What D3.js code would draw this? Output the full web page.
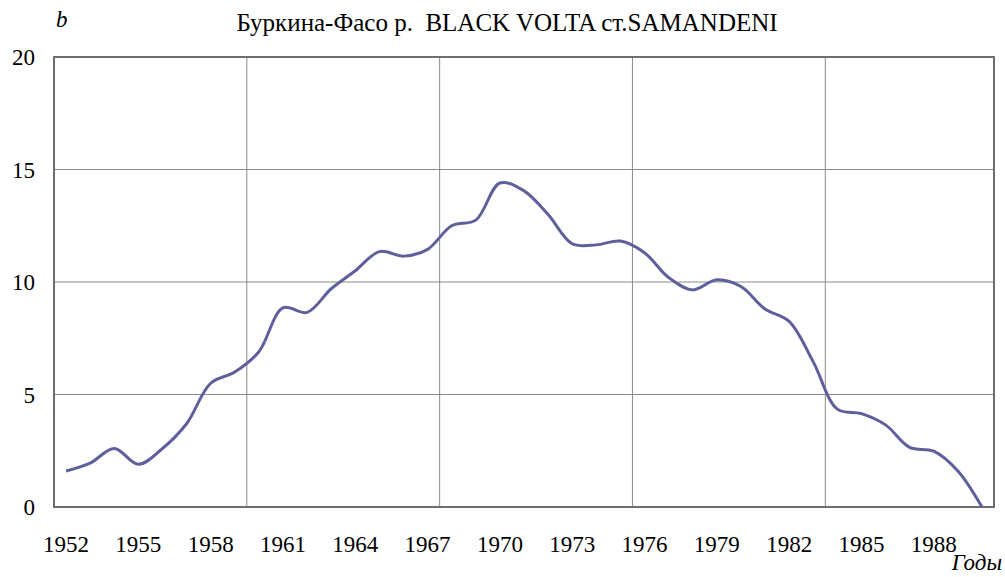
<!DOCTYPE html>
<html>
<head>
<meta charset="utf-8">
<script src="https://cdn.jsdelivr.net/npm/d3@7/dist/d3.min.js"></script>
<style>
  body { margin: 0; background: #fff; }
  svg text { font-family: "Liberation Serif", Tinos, "Times New Roman", Times, "DejaVu Serif", serif; fill: #000; }
</style>
</head>
<body>
<svg id="chart" width="1005" height="577"></svg>
<script>
// years on the category axis
var years = d3.range(1952, 1991);
// smoothed b values, one per year
var values = [
  1.6, 1.95, 2.6, 1.9, 2.6, 3.7, 5.5, 6.0, 6.9, 8.85,
  8.65, 9.7, 10.5, 11.35, 11.15, 11.45, 12.5, 12.75, 14.4, 14.05,
  13.0, 11.7, 11.65, 11.82, 11.3, 10.2, 9.65, 10.1, 9.8, 8.8,
  8.25, 6.45, 4.35, 4.15, 3.65, 2.65, 2.48, 1.6, 0
];
var yTicks = [0, 5, 10, 15, 20];
var xLabels = [1952, 1955, 1958, 1961, 1964, 1967, 1970, 1973, 1976, 1979, 1982, 1985, 1988];
var xGridYears = [1960, 1968, 1976, 1984];

function drawChart() {
  var svg = d3.select("#chart");
  var pLeft = 54, pRight = 994, pTop = 57, pBottom = 507;

  var x = d3.scaleBand().domain(years).range([pLeft, pRight]);
  var y = d3.scaleLinear().domain([0, 20]).range([pBottom, pTop]);

  var data = years.map(function (yr, i) {
    return { year: yr, value: values[i] };
  });

  // grid
  svg.append("g")
    .selectAll("line")
    .data(yTicks.filter(function (d) { return d > 0 && d < 20; }))
    .enter()
    .append("line")
    .attr("x1", pLeft)
    .attr("x2", pRight)
    .attr("y1", function (d) { return y(d); })
    .attr("y2", function (d) { return y(d); })
    .attr("stroke", "#8a8a8a")
    .attr("stroke-width", 1);

  svg.append("g")
    .selectAll("line")
    .data(xGridYears)
    .enter()
    .append("line")
    .attr("x1", function (d) { return x(d); })
    .attr("x2", function (d) { return x(d); })
    .attr("y1", pTop)
    .attr("y2", pBottom)
    .attr("stroke", "#8a8a8a")
    .attr("stroke-width", 1);

  // plot frame
  svg.append("rect")
    .attr("x", pLeft)
    .attr("y", pTop)
    .attr("width", pRight - pLeft)
    .attr("height", pBottom - pTop)
    .attr("fill", "none")
    .attr("stroke", "#6e6e6e")
    .attr("stroke-width", 2);

  // y labels
  svg.append("g")
    .selectAll("text")
    .data(yTicks)
    .enter()
    .append("text")
    .attr("x", 35)
    .attr("y", function (d) { return y(d) + 8; })
    .attr("text-anchor", "end")
    .style("font-size", "23px")
    .text(function (d) { return d; });

  // x labels
  svg.append("g")
    .selectAll("text")
    .data(xLabels)
    .enter()
    .append("text")
    .attr("x", function (d) { return x(d) + x.bandwidth() / 2; })
    .attr("y", 552)
    .attr("text-anchor", "middle")
    .style("font-size", "23px")
    .text(function (d) { return d; });

  var line = d3.line()
    .x(function (d) { return x(d.year) + x.bandwidth() / 2; })
    .y(function (d) { return y(d.value); })
    .curve(d3.curveCatmullRom.alpha(0.5));

  svg.append("path")
    .datum(data)
    .attr("d", line)
    .attr("fill", "none")
    .attr("stroke", "#5f5f9c")
    .attr("stroke-width", 3);

  // titles
  svg.append("text")
    .attr("x", 507)
    .attr("y", 31)
    .attr("text-anchor", "middle")
    .attr("xml:space", "preserve")
    .style("font-size", "25px")
    .text("Буркина-Фасо р.  BLACK VOLTA ст.SAMANDENI");

  svg.append("text")
    .attr("x", 56)
    .attr("y", 27)
    .style("font-size", "23px")
    .style("font-style", "italic")
    .text("b");

  svg.append("text")
    .attr("x", 1002)
    .attr("y", 570)
    .attr("text-anchor", "end")
    .style("font-size", "23px")
    .style("font-style", "italic")
    .text("Годы");
}

drawChart();
</script>
</body>
</html>
